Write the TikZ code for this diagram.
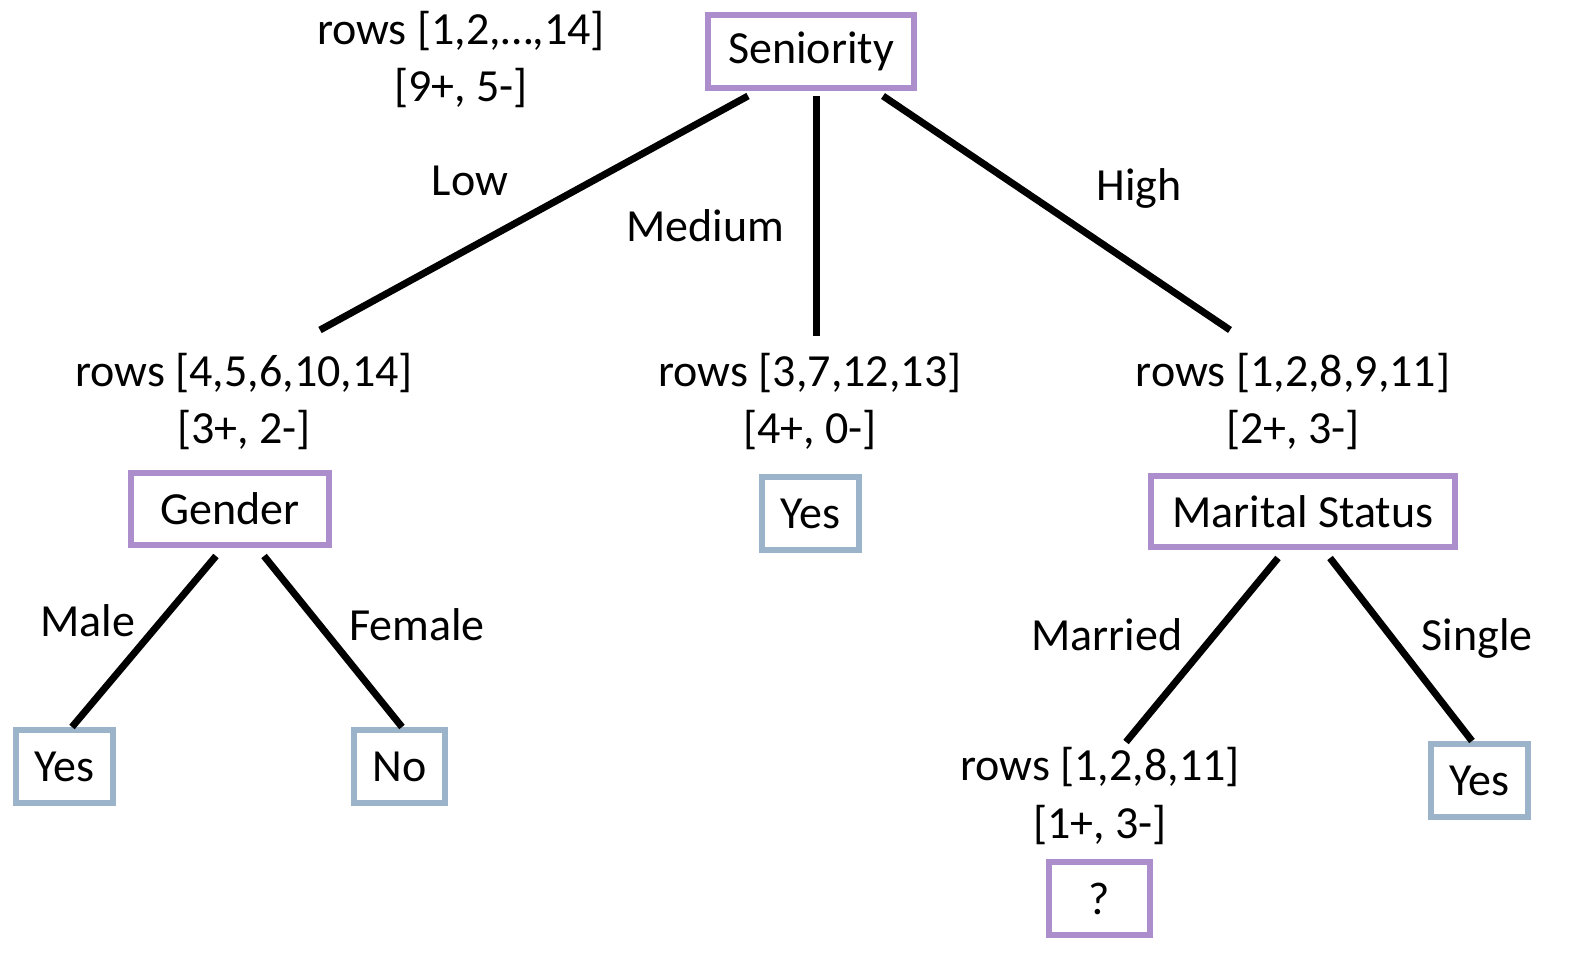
\documentclass[tikz,border=0pt]{standalone}
\usepackage{fontspec}
\setmainfont{Carlito}
\definecolor{boxpurple}{RGB}{172,142,204}
\definecolor{boxblue}{RGB}{155,180,202}
\begin{document}
\begin{tikzpicture}[x=1bp,y=-1bp,
  every node/.style={font=\fontsize{46bp}{57bp}\selectfont, inner sep=0pt},
  attr/.style={draw=boxpurple, line width=6bp, fill=white},
  leaf/.style={draw=boxblue, line width=6bp, fill=white},
  info/.style={align=center},
  edge/.style={line width=7bp, black}]
\useasboundingbox (0,0) rectangle (1581,961);
% boxes
\node[attr, minimum width=206bp, minimum height=73bp] (sen) at (811,51.5) {Seniority};
\node[attr, minimum width=198bp, minimum height=72bp] (gen) at (230,509) {Gender};
\node[leaf, minimum width=97bp, minimum height=73bp] (yesm) at (810.5,513.5) {Yes};
\node[attr, minimum width=304bp, minimum height=71bp] (mar) at (1303,511.5) {Marital Status};
\node[leaf, minimum width=97bp, minimum height=73bp] (yesl) at (64.5,766.5) {Yes};
\node[leaf, minimum width=91bp, minimum height=73bp] (no) at (399.5,766.5) {No};
\node[attr, minimum width=101bp, minimum height=73bp] (q) at (1099.5,898.5) {?};
\node[leaf, minimum width=97bp, minimum height=73bp] (yesr) at (1479.5,780.5) {Yes};
% info labels
\node[info] (i0) at (461,60) {rows [1,2,…,14]\\{}[9+, 5-]};
\node[info] (i1) at (244,402) {rows [4,5,6,10,14]\\{}[3+, 2-]};
\node[info] (i2) at (810,402) {rows [3,7,12,13]\\{}[4+, 0-]};
\node[info] (i3) at (1293,402) {rows [1,2,8,9,11]\\{}[2+, 3-]};
\node[info] (i4) at (1100,796) {rows [1,2,8,11]\\{}[1+, 3-]};
% branch labels
\node (low) at (470,181) {Low};
\node (med) at (705,226) {Medium};
\node (high) at (1139,188) {High};
\node (male) at (88,621) {Male};
\node (fem) at (417,625) {Female};
\node (marr) at (1107,635) {Married};
\node (sing) at (1477,638) {Single};
% connector ends
\coordinate (s1) at (748,96);
\coordinate (s2) at (816,96);
\coordinate (s3) at (883,96);
\coordinate (e1) at (320,330);
\coordinate (e2) at (816,336);
\coordinate (e3) at (1230,330);
\coordinate (g1) at (216,556);
\coordinate (g2) at (264,556);
\coordinate (m1) at (1278,558);
\coordinate (m2) at (1330,558);
\coordinate (em1) at (1126,742);
\draw[edge] (s1) -- (e1);
\draw[edge] (s2) -- (e2);
\draw[edge] (s3) -- (e3);
\draw[edge] (g1) -- (yesl.north -| 72,0);
\draw[edge] (g2) -- (no.north -| 402,0);
\draw[edge] (m1) -- (em1);
\draw[edge] (m2) -- (yesr.north -| 1472,0);
\end{tikzpicture}
\end{document}
